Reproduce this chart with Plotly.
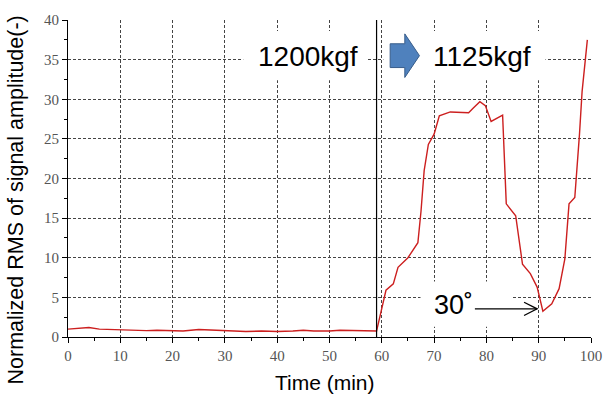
import plotly.graph_objects as go

# Normalized RMS of the signal amplitude over time
time_min = [0, 2, 4, 6, 8, 10, 12, 15, 17, 20, 22, 25, 27, 30, 32, 34, 37, 40, 43, 45,
            47, 50, 52, 55, 57, 59, 60.8, 62.2, 63.1, 65.0, 66.9, 67.5, 68.1, 68.9,
            70.0, 71.0, 73.1, 76.6, 77.5, 78.75, 79.8, 80.9, 83.1, 83.8, 85.6, 86.9,
            88.4, 89.7, 90.8, 92.5, 93.9, 95.0, 95.8, 96.9, 97.8, 98.3, 99.3]
rms = [1.0, 1.1, 1.2, 1.0, 0.95, 0.95, 0.85, 0.8, 0.85, 0.75, 0.75, 0.95, 0.9, 0.85,
       0.8, 0.7, 0.75, 0.7, 0.75, 0.85, 0.75, 0.75, 0.85, 0.8, 0.75, 0.75, 5.9, 6.7,
       8.8, 10.0, 11.9, 15.9, 21.0, 24.3, 25.6, 27.9, 28.4, 28.3, 28.9, 29.7, 29.2,
       27.2, 28.0, 16.8, 15.3, 9.2, 8.0, 6.3, 3.25, 4.2, 6.1, 9.85, 16.8, 17.6, 25.6,
       31.0, 37.5]

load_switch_min = 59          # load changed from 1200 kgf to 1125 kgf
load_before = "1200kgf"
load_after = "1125kgf"
angle_label = "30˚"
angle_time, angle_value = 89.7, 3.55

x_ticks = list(range(0, 101, 10))
y_ticks = list(range(0, 41, 5))

tick_font = dict(family="Liberation Serif", size=15, color="#555555")
grid_kw = dict(showgrid=True, gridcolor="#444444", gridwidth=1, griddash="3px,2px",
               zeroline=False, showline=True, linecolor="#000000", linewidth=1,
               ticks="outside", tickcolor="#000000", ticklen=5, tickwidth=1,
               tickfont=tick_font)

fig = go.Figure()
fig.add_trace(go.Scatter(x=time_min, y=rms, mode="lines",
                         line=dict(color="#cc1f1f", width=1.4),
                         showlegend=False, hoverinfo="skip"))

fig.update_xaxes(range=[0, 100], tickvals=x_ticks, ticklabelstandoff=0,
                 minor=dict(dtick=5, ticks="outside", ticklen=3, tickcolor="#000000",
                            showgrid=False),
                 **grid_kw)
fig.update_yaxes(range=[0, 40], tickvals=y_ticks,
                 minor=dict(dtick=2.5, ticks="outside", ticklen=3, tickcolor="#000000",
                            showgrid=False),
                 **grid_kw)

shapes = [
    # white panels behind the text labels
    dict(type="rect", xref="x", yref="y", x0=33.5, x1=57.1, y0=32.4, y1=38.6,
         fillcolor="white", line=dict(width=0), layer="between"),
    dict(type="rect", xref="x", yref="y", x0=60.3, x1=91.3, y0=32.4, y1=38.6,
         fillcolor="white", line=dict(width=0), layer="between"),
    dict(type="rect", xref="x", yref="y", x0=67.4, x1=85.0, y0=1.3, y1=7.0,
         fillcolor="white", line=dict(width=0), layer="between"),
    # load change marker
    dict(type="line", xref="x", yref="y", x0=load_switch_min, x1=load_switch_min,
         y0=0, y1=40, line=dict(color="#000000", width=1.2), layer="above"),
    # block arrow between the two loads
    dict(type="path", xref="x", yref="y",
         path="M61.6,37.0 L64.4,37.0 L64.4,38.25 L67.2,35.5 L64.4,32.75 "
              "L64.4,34.0 L61.6,34.0 Z",
         fillcolor="#4f81bd", line=dict(color="#385d8a", width=1), layer="above"),
    # arrow pointing to the minimum
    dict(type="line", xref="x", yref="y", x0=77.8, x1=angle_time,
         y0=angle_value, y1=angle_value, line=dict(color="#000000", width=1.3),
         layer="above"),
    dict(type="path", xref="x", yref="y",
         path=f"M{angle_time - 2.5},{angle_value + 0.84} L{angle_time},{angle_value} "
              f"L{angle_time - 2.5},{angle_value - 0.84}",
         line=dict(color="#000000", width=1.3), layer="above"),
]

big_font = dict(family="Liberation Sans, Arial", size=28, color="#000000")
annotations = [
    dict(x=45.8, y=35.45, xref="x", yref="y", text=load_before, showarrow=False,
         font=big_font, xanchor="center", yanchor="middle"),
    dict(x=79.1, y=35.45, xref="x", yref="y", text=load_after, showarrow=False,
         font=big_font, xanchor="center", yanchor="middle"),
    dict(x=73.8, y=4.1, xref="x", yref="y", text=angle_label, showarrow=False,
         font=dict(family="Liberation Sans, Arial", size=27, color="#000000"),
         xanchor="center", yanchor="middle"),
    dict(x=-0.0993, y=0.431, xref="paper", yref="paper",
         text="Normalized RMS of signal amplitude(-)", showarrow=False,
         textangle=-90, xanchor="center", yanchor="middle",
         font=dict(family="Liberation Sans, Arial", size=21.5, color="#000000")),
    dict(x=0.4916, y=-0.1447, xref="paper", yref="paper", text="Time (min)",
         showarrow=False, xanchor="center", yanchor="middle",
         font=dict(family="Liberation Sans, Arial", size=21, color="#000000")),
]

fig.update_layout(width=614, height=394, margin=dict(l=68, r=12, t=19, b=57),
                  paper_bgcolor="white", plot_bgcolor="white",
                  shapes=shapes, annotations=annotations, showlegend=False)

fig.write_html("out.html")
